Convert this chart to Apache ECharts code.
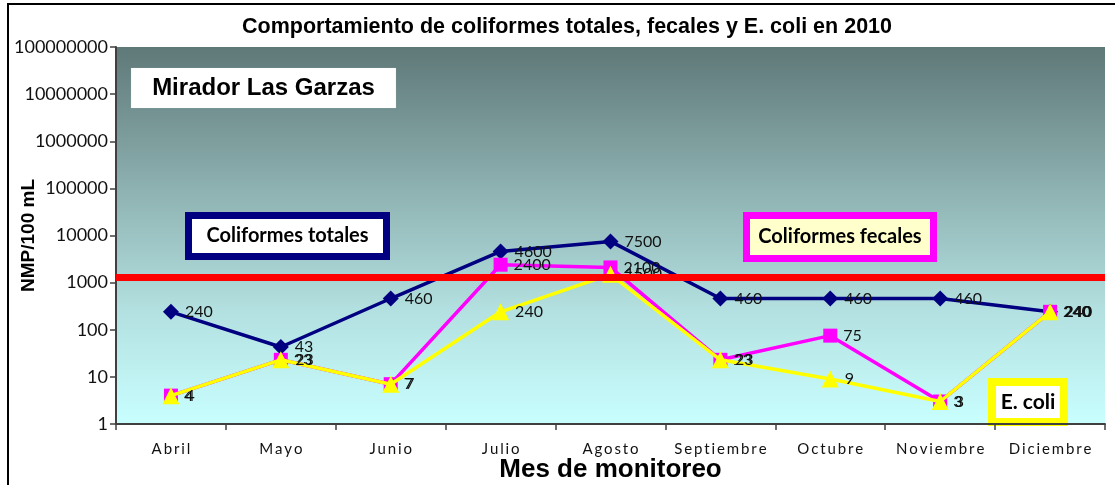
<!DOCTYPE html>
<html>
<head>
<meta charset="utf-8">
<script src="https://cdn.jsdelivr.net/npm/echarts@6/dist/echarts.min.js"></script>
<style>
  html, body { margin: 0; padding: 0; background: #fff; }
  #chart { width: 1115px; height: 485px; }
</style>
</head>
<body>
<div id="chart"></div>
<script>
// months of sampling
const months = ['Abril', 'Mayo', 'Junio', 'Julio', 'Agosto', 'Septiembre', 'Octubre', 'Noviembre', 'Diciembre']
const totales = [240, 43, 460, 4600, 7500, 460, 460, 460, 240]
const fecales = [4, 23, 7, 2400, 2100, 23, 75, 3, 240]
const ecoli = [4, 23, 7, 240, 1500, 23, 9, 3, 240]
const limite = 1300 // red reference line

const chart = echarts.init(document.getElementById('chart'))

const labelFont = 'Lato, "Open Sans", sans-serif'
const arial = '"Liberation Sans", Arial, sans-serif'

function pointLabel() {
  return {
    show: true,
    position: 'right',
    distance: 6,
    color: '#111',
    fontSize: 16,
    fontFamily: labelFont
  }
}

// text boxes drawn over the plot
function box(x, y, w, h, border, bw, fill, text, font) {
  return {
    type: 'group',
    left: x,
    top: y,
    z: 20,
    children: [{
      type: 'rect',
      shape: { x: bw / 2, y: bw / 2, width: w - bw, height: h - bw },
      style: { fill: fill, stroke: border, lineWidth: bw }
    }, {
      type: 'text',
      x: w / 2,
      y: h / 2,
      style: {
        text: text,
        align: 'center',
        verticalAlign: 'middle',
        fill: '#000',
        font: font
      }
    }]
  }
}

chart.setOption({
  animation: false,
  title: {
    text: 'Comportamiento de coliformes totales, fecales y E. coli en 2010',
    left: 562,
    textAlign: 'center',
    top: 11,
    textStyle: {
      fontFamily: arial,
      fontSize: 21.5,
      fontWeight: 'bold',
      color: '#000'
    }
  },
  grid: {
    left: 116,
    right: 10,
    top: 47,
    bottom: 61,
    outerBoundsMode: 'none',
    containLabel: false,
    show: true,
    borderWidth: 0,
    backgroundColor: {
      type: 'linear', x: 0, y: 0, x2: 0, y2: 1,
      colorStops: [
        { offset: 0, color: '#5f7878' },
        { offset: 0.45, color: '#97bcbc' },
        { offset: 0.7, color: '#b3e0e0' },
        { offset: 1, color: '#c9ffff' }
      ]
    }
  },
  xAxis: {
    type: 'category',
    data: months,
    boundaryGap: true,
    name: 'Mes de monitoreo',
    nameLocation: 'middle',
    nameGap: 33,
    nameMoveOverlap: false,
    nameTextStyle: {
      fontFamily: arial,
      fontSize: 26,
      fontWeight: 'bold',
      color: '#000'
    },
    axisLine: { lineStyle: { color: '#404040', width: 2 } },
    axisTick: { show: true, length: 6, lineStyle: { color: '#404040', width: 1.5 } },
    axisLabel: {
      interval: 0,
      margin: 18,
      fontSize: 15,
      fontFamily: labelFont,
      color: '#111',
      formatter: v => v.split('').join('\u2009')
    },
    splitLine: { show: false }
  },
  yAxis: {
    type: 'log',
    logBase: 10,
    min: 1,
    max: 100000000,
    name: 'NMP/100 mL',
    nameLocation: 'middle',
    nameGap: 78,
    nameRotate: 90,
    nameMoveOverlap: false,
    nameTextStyle: {
      fontFamily: arial,
      fontSize: 19,
      fontWeight: 'bold',
      color: '#000'
    },
    axisLine: { show: true, lineStyle: { color: '#404040', width: 2 } },
    axisTick: { show: true, length: 6, lineStyle: { color: '#404040', width: 1.5 } },
    axisLabel: {
      margin: 8,
      fontSize: 18,
      fontFamily: labelFont,
      color: '#111',
      formatter: v => String(Math.round(v))
    },
    splitLine: { show: false }
  },
  series: [{
    name: 'Coliformes totales',
    type: 'line',
    data: totales,
    z: 2,
    symbol: 'diamond',
    symbolSize: 16,
    itemStyle: { color: '#000080' },
    lineStyle: { color: '#000080', width: 3.5 },
    label: pointLabel()
  }, {
    name: 'Coliformes fecales',
    type: 'line',
    data: fecales,
    z: 3,
    symbol: 'rect',
    symbolSize: 14,
    itemStyle: { color: '#ff00ff' },
    lineStyle: { color: '#ff00ff', width: 3.5 },
    label: pointLabel()
  }, {
    name: 'E. coli',
    type: 'line',
    data: ecoli,
    z: 4,
    symbol: 'triangle',
    symbolSize: 17,
    itemStyle: { color: '#ffff00' },
    lineStyle: { color: '#ffff00', width: 3.5 },
    label: pointLabel()
  }, {
    name: 'limite',
    type: 'line',
    data: [],
    z: 6,
    markLine: {
      silent: true,
      symbol: ['none', 'none'],
      label: { show: false },
      lineStyle: { color: '#ff0000', width: 7, type: 'solid' },
      data: [{ yAxis: limite }]
    }
  }],
  graphic: [
    {
      type: 'rect',
      z: 30,
      silent: true,
      shape: { x: 8, y: 4, width: 1300, height: 700 },
      style: { fill: 'none', stroke: '#000', lineWidth: 2 }
    },
    box(131, 68, 265, 40, '#ffffff', 0.1, '#ffffff', 'Mirador Las Garzas', 'bold 24px ' + arial),
    box(185, 212, 205, 48, '#000080', 7, '#ffffff', 'Coliformes totales', 'bold 20px ' + labelFont),
    box(743, 212, 194, 50, '#ff00ff', 7, '#ffffcc', 'Coliformes fecales', 'bold 20px ' + labelFont),
    box(988, 378, 80, 48, '#ffff00', 8, '#ffffff', 'E. coli', 'bold 21px ' + labelFont)
  ]
})
</script>
</body>
</html>
